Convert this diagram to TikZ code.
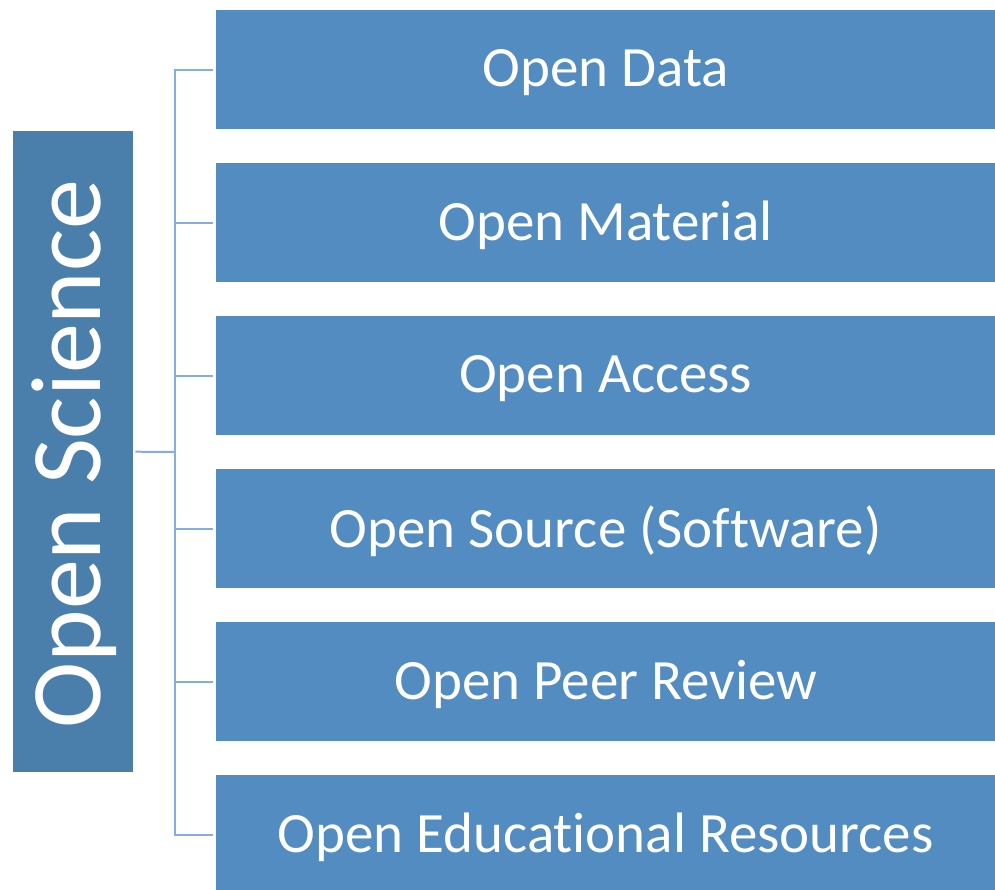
\documentclass[tikz,border=0pt]{standalone}
\usepackage{fontspec}
\setmainfont{Carlito}[Ligatures={NoCommon}]
\definecolor{leftblue}{HTML}{4A7EAB}
\definecolor{boxblue}{HTML}{528CC1}
\definecolor{linkblue}{HTML}{84AEDF}
\begin{document}
\begin{tikzpicture}[x=1pt,y=-1pt,
  itembox/.style={fill=boxblue, draw=none, minimum width=779pt, minimum height=119pt,
    inner sep=0pt, anchor=north west},
  itemtext/.style={text=white, font=\fontsize{57}{60}\selectfont, inner sep=0pt},
  mainbox/.style={fill=leftblue, draw=none, minimum width=120pt, minimum height=641pt,
    inner sep=0pt, anchor=north west},
  link/.style={draw=linkblue, line width=2pt}]
\useasboundingbox (0,0) rectangle (995,889);
\begin{scope}
\clip (0,0) rectangle (995,889);
\node[mainbox] (os) at (13,131) {};
\node[rotate=90, text=white, font=\fontsize{100}{110}\selectfont, inner sep=0pt] (ost) at (74,454) {Open Science};
\foreach \n/\y/\t in {b1/10/Open Data, b2/163/Open Material, b3/316/Open Access,
    b4/469/Open Source (Software), b5/622/Open Peer Review, b6/775/Open Educational Resources}{
  \node[itembox] (\n) at (216,\y) {};
  \node[itemtext] (\n t) at ([yshift=-3pt]\n.center) {\t};
}
\end{scope}
\coordinate (hub) at (175,452);
\coordinate (top) at (175,70);
\coordinate (bot) at (175,835);
\draw[link] ([xshift=2pt]os.east) -- (hub);
\draw[link] (top) -- (bot);
\foreach \b/\y in {b1/70,b2/223,b3/376,b4/529,b5/682,b6/835}{
  \draw[link] (174,\y) -- ([xshift=-3pt]\b.west |- 0,\y);
}
\end{tikzpicture}
\end{document}
